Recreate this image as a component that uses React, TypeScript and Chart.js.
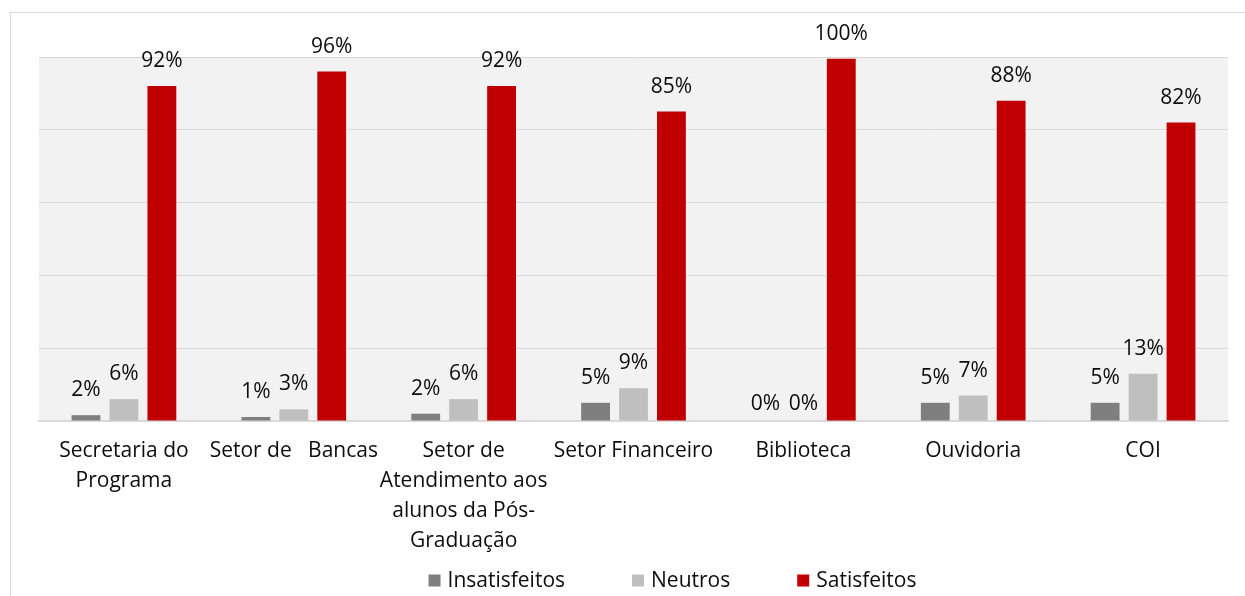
import { useEffect, useRef } from "react";
import { Chart, registerables } from "chart.js";

Chart.register(...registerables);

const categories: (string | string[])[] = [
  ["Secretaria do", "Programa"],
  "Setor de   Bancas",
  ["Setor de", "Atendimento aos", "alunos da Pós-", "Graduação"],
  "Setor Financeiro",
  "Biblioteca",
  "Ouvidoria",
  "COI",
];
const seriesNames = ["Insatisfeitos", "Neutros", "Satisfeitos"];
const insatisfeitos = [1.6, 1.1, 2, 5, 0, 5, 5];
const neutros = [6, 3.2, 6, 9, 0, 7, 13];
const satisfeitos = [92, 96, 92, 85, 99.5, 88, 82];
const yTicks = [0, 20, 40, 60, 80, 100];

const colors = ["#7f7f7f", "#bfbfbf", "#c00000"];
const FONT = "'Open Sans', sans-serif";
const FSIZE = 21;
const TEXT = "#0d0d0d";

const bgPlugin = {
  id: "plotBg",
  beforeDraw(chart: any) {
    const { ctx, chartArea } = chart;
    ctx.save();
    ctx.fillStyle = "#f2f2f2";
    ctx.fillRect(chartArea.left, chartArea.top, chartArea.right - chartArea.left, chartArea.bottom - chartArea.top);
    ctx.restore();
  },
};

const labelPlugin = {
  id: "valueLabels",
  afterDatasetsDraw(chart: any) {
    const { ctx } = chart;
    ctx.save();
    ctx.font = `${FSIZE}px ${FONT}`;
    ctx.fillStyle = TEXT;
    ctx.textAlign = "center";
    ctx.textBaseline = "alphabetic";
    chart.data.datasets.forEach((ds: any, i: number) => {
      const meta = chart.getDatasetMeta(i);
      meta.data.forEach((el: any, j: number) => {
        const v = ds.data[j] as number;
        const off = v === 0 ? 11 : 19;
        ctx.fillText(`${Math.round(v)}%`, el.x, el.y - off);
      });
    });
    ctx.restore();
  },
};

const legendPlugin = {
  id: "customLegend",
  afterDraw(chart: any) {
    const { ctx } = chart;
    ctx.save();
    ctx.font = `${FSIZE}px ${FONT}`;
    const box = 12;
    const gapBox = 7;
    const gapItem = 67;
    const items = chart.data.datasets.map((ds: any) => ({
      label: ds.label,
      color: ds.backgroundColor,
      w: box + gapBox + ctx.measureText(ds.label).width,
    }));
    const total = items.reduce((s: number, it: any) => s + it.w, 0) + gapItem * (items.length - 1);
    let x = 661.5 - total / 2;
    const cy = 567.5;
    items.forEach((it: any) => {
      ctx.fillStyle = it.color;
      ctx.fillRect(x, cy - box / 2, box, box);
      ctx.fillStyle = TEXT;
      ctx.textAlign = "left";
      ctx.textBaseline = "middle";
      ctx.fillText(it.label, x + box + gapBox, cy + 1);
      x += it.w + gapItem;
    });
    ctx.restore();
  },
};

export default function App() {
  const ref = useRef<HTMLCanvasElement | null>(null);
  useEffect(() => {
    if (!ref.current) return;
    const values = [insatisfeitos, neutros, satisfeitos];
    const chart = new Chart(ref.current, {
      type: "bar",
      data: {
        labels: categories,
        datasets: seriesNames.map((name, i) => ({
          label: name,
          data: values[i],
          backgroundColor: colors[i],
          borderWidth: 0,
          categoryPercentage: 0.67,
          barPercentage: 0.76,
        })),
      },
      options: {
        animation: false,
        responsive: true,
        maintainAspectRatio: false,
        layout: { padding: { left: 28, right: 17, top: 44, bottom: 0 } },
        plugins: { legend: { display: false }, tooltip: { enabled: false }, title: { display: false } },
        scales: {
          x: {
            grid: { display: false, drawTicks: false },
            border: { display: true, color: "#d9d9d9", width: 2 },
            ticks: {
              font: { family: FONT, size: FSIZE, lineHeight: 30 / 21 },
              color: TEXT,
              padding: 15,
              maxRotation: 0,
              minRotation: 0,
              autoSkip: false,
            },
            afterFit: (s: any) => {
              s.height = 175;
            },
          },
          y: {
            min: 0,
            max: 100,
            afterBuildTicks: (s: any) => {
              s.ticks = yTicks.map((v) => ({ value: v }));
            },
            ticks: { display: false },
            grid: { color: "#d9d9d9", lineWidth: 1, drawTicks: false },
            border: { display: false },
            afterFit: (s: any) => {
              s.width = 0;
            },
          },
        },
      },
      plugins: [bgPlugin, labelPlugin, legendPlugin],
    });
    return () => chart.destroy();
  }, []);

  return (
    <div
      style={{
        position: "absolute",
        left: 10,
        top: 12,
        width: 1235,
        height: 584,
        boxSizing: "border-box",
        borderTop: "1px solid #d9d9d9",
        borderLeft: "1px solid #d9d9d9",
        background: "#fff",
      }}
    >
      <div style={{ position: "relative", width: 1234, height: 583 }}>
        <canvas ref={ref} />
      </div>
    </div>
  );
}
